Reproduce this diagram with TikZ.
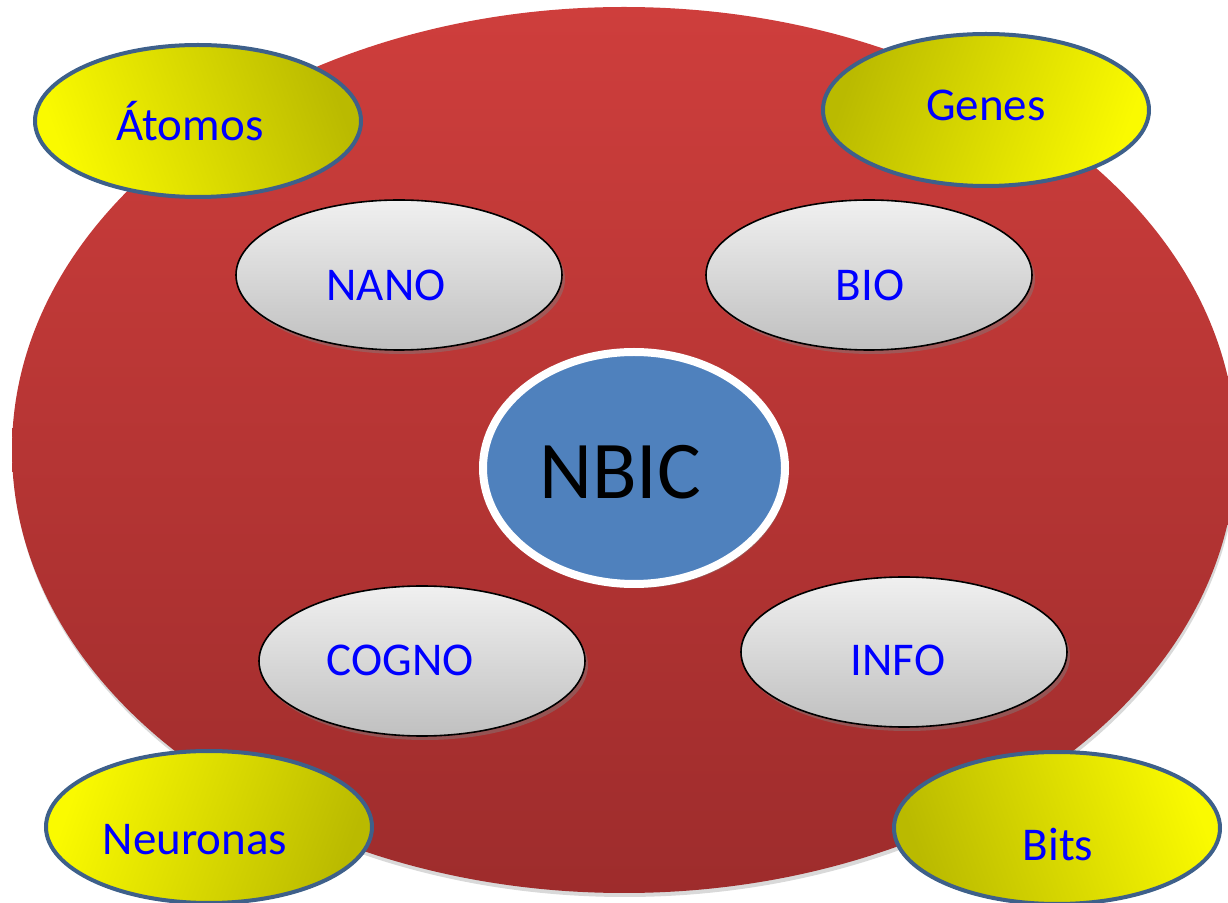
\documentclass[tikz,border=0pt]{standalone}
\usepackage{fontspec}
\setmainfont{Carlito}
\usetikzlibrary{shapes.geometric,shadows}
\definecolor{redtop}{RGB}{206,62,60}
\definecolor{redbot}{RGB}{158,44,44}
\definecolor{ylbright}{RGB}{250,250,0}
\definecolor{ylmid}{RGB}{236,236,0}
\definecolor{yldark}{RGB}{186,186,0}
\definecolor{ylborder}{RGB}{62,96,138}
\definecolor{graytop}{RGB}{240,240,240}
\definecolor{graybot}{RGB}{192,192,192}
\definecolor{nbicblue}{RGB}{79,129,189}
\definecolor{txtblue}{RGB}{0,0,255}
\tikzset{
  bigoval/.style={ellipse, inner sep=0pt, top color=redtop, bottom color=redbot, draw=none,
    drop shadow={shadow xshift=0.5pt, shadow yshift=-2pt, opacity=0.3},
    minimum width=612pt, minimum height=443pt},
  yoval/.style={ellipse, inner sep=0pt, draw=ylborder, line width=2pt,
    minimum width=163pt, minimum height=76pt},
  goval/.style={ellipse, inner sep=0pt, draw=black, line width=0.8pt,
    top color=graytop, bottom color=graybot,
    drop shadow={shadow xshift=1.5pt, shadow yshift=-2pt, opacity=0.45},
    minimum width=163pt, minimum height=75pt},
  coreoval/.style={ellipse, inner sep=0pt, draw=white, line width=4pt, fill=nbicblue,
    drop shadow={shadow xshift=1.5pt, shadow yshift=-2pt, opacity=0.45},
    minimum width=151pt, minimum height=116pt},
  lbl/.style={text=txtblue, font=\fontsize{23.5}{28}\selectfont, inner sep=0pt},
}
\begin{document}
\begin{tikzpicture}[x=0.5pt,y=-0.5pt]
\useasboundingbox (0,0) rectangle (1228,903);
\node[bigoval] (big) at (624,450) {};
% gray ovals
\node[goval] (nano) at (399,275) {};
\node[goval] (bio) at (869,275) {};
\node[goval] (cogno) at (422,661) {};
\node[goval] (info) at (904,652) {};
\node[lbl] (tnano) at (386,285) {NANO};
\node[lbl] (tbio) at (870,285) {BIO};
\node[lbl] (tcogno) at (400,660) {COGNO};
\node[lbl] (tinfo) at (898,660) {INFO};
% center
\node[coreoval] (core) at (634,468) {};
\node[inner sep=0pt, font=\fontsize{41}{48}\selectfont] (tcore) at (620,472) {NBIC};
% yellow ovals
\node[yoval, left color=ylbright, middle color=ylmid, right color=yldark, shading angle=110] (atomos) at (198,121) {};
\node[yoval, left color=yldark, middle color=ylmid, right color=ylbright, shading angle=70] (genes) at (986,110) {};
\node[yoval, left color=ylbright, middle color=ylmid, right color=yldark, shading angle=70] (neuronas) at (209,827) {};
\node[yoval, left color=yldark, middle color=ylmid, right color=ylbright, shading angle=110] (bits) at (1057,828) {};
\node[lbl] (tatomos) at (190,121) {Átomos};
\node[lbl] (tgenes) at (986,105) {Genes};
\node[lbl] (tneuronas) at (195,840) {Neuronas};
\node[lbl] (tbits) at (1058,845) {Bits};
\end{tikzpicture}
\end{document}
